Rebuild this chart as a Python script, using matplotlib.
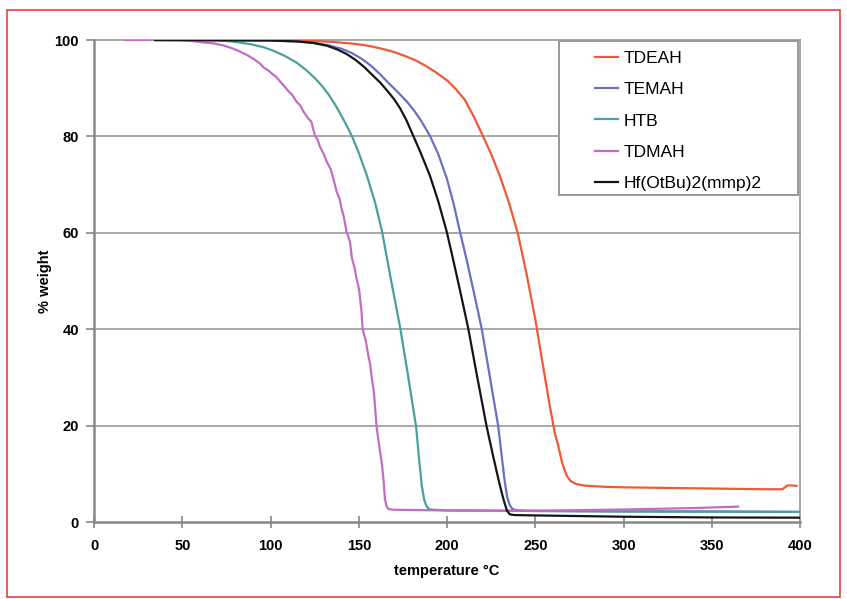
import matplotlib.pyplot as plt
from matplotlib.patches import Rectangle

# ─── DATA ──────────────────────────────────────────────────────────────────────

tdeah_t = [35, 100, 120, 135, 145, 152, 158, 164, 170, 176, 182, 188, 194, 200, 205,
           210, 215, 220, 225, 230, 235, 240, 245, 250, 255, 258, 261, 263, 265, 266.5,
           268, 270, 273, 277, 282, 290, 300, 320, 340, 360, 380, 390, 391.5, 393, 395,
           398]
tdeah_w = [100, 100, 99.9, 99.6, 99.3, 99, 98.6, 98.1, 97.5, 96.7, 95.8, 94.6, 93.2,
           91.6, 89.8, 87.6, 84.2, 80.3, 76.3, 71.7, 66.3, 60, 51.5, 42, 31, 24.5, 18.5,
           15.8, 12.6, 10.8, 9.5, 8.5, 7.9, 7.6, 7.45, 7.3, 7.2, 7.1, 7.0, 6.9, 6.8, 6.8,
           7.2, 7.6, 7.6, 7.5]

temah_t = [35, 100, 115, 125, 133, 140, 146, 152, 157, 162, 167, 172, 177, 181, 185,
           190.3, 195, 199.8, 203.5, 207.3, 211, 215, 219.6, 224, 229, 231, 232.5, 234,
           235.5, 237, 239.4, 245, 300, 350, 400]
temah_w = [100, 99.9, 99.7, 99.4, 98.9, 98.2, 97.3, 96, 94.6, 92.9, 91, 89.2, 87.3,
           85.5, 83.4, 80.1, 76.3, 71.3, 66.3, 60.2, 54.5, 47.9, 40.1, 30.6, 19.8, 13.5,
           8.8, 5.2, 3.5, 2.7, 2.45, 2.3, 2.2, 2.2, 2.1]

htb_t = [35, 67, 75, 82, 89, 96, 102, 108, 114.7, 120, 125, 129, 133, 136.5, 139.3,
         143, 146, 150, 154.4, 159, 163, 168, 173.5, 178, 182.4, 184, 185.6, 187, 188.4,
         190.3, 200, 250, 300, 400]
htb_w = [100, 100, 99.8, 99.5, 99.1, 98.5, 97.7, 96.7, 95.3, 93.8, 92.1, 90.5, 88.6,
         86.6, 84.8, 82.3, 80.1, 76.5, 72, 66.5, 60.5, 50.6, 40.1, 30, 19.8, 13.5, 7.6,
         4.6, 3.2, 2.6, 2.4, 2.3, 2.2, 2.1]

tdmah_t = [17.4, 48.6, 55, 62, 67.6, 73, 78, 82.6, 87, 91, 94, 96, 99, 101, 103, 105.3,
           108, 110, 112, 114.7, 117, 118.5, 121.3, 123, 124, 125.1, 126.5, 128, 130,
           131.7, 134, 135.5, 137.4, 139, 140, 141.5, 143, 144, 145, 146, 147.5, 148.5,
           150, 150.6, 151.5, 152.1, 153, 154, 155.3, 156.3, 157.5, 158.5, 160, 161.5,
           163, 164, 164.8, 165.8, 166.7, 169.5, 200, 250, 300, 340, 365]
tdmah_w = [100, 100, 99.8, 99.5, 99.3, 98.9, 98.3, 97.6, 96.8, 95.9, 95.1, 94.3, 93.6,
           92.9, 92.4, 91.4, 90.3, 89.4, 88.7, 87.2, 86.3, 85.2, 83.7, 83.1, 81.7, 80.1,
           79.4, 77.8, 76.4, 74.8, 73.2, 71.3, 68.5, 67.1, 65.3, 63.2, 60.2, 59.2, 58.0,
           54.8, 52.8, 50.8, 48.4, 46.7, 43.5, 40.1, 38.8, 37.4, 34.6, 32.9, 29.4, 27.0,
           19.8, 15.8, 12.2, 8.5, 4.6, 3.2, 2.7, 2.55, 2.4, 2.35, 2.6, 2.9, 3.2]

hf_t = [34.5, 100, 115, 124, 132, 138, 143, 148, 153, 158, 162, 166, 170, 173.4, 177,
        180, 185, 190.3, 195, 199.8, 203, 206, 209, 212, 217, 222.4, 226, 229, 231,
        232.5, 234, 235.5, 238, 245, 300, 350, 400]
hf_w = [100, 99.9, 99.7, 99.4, 98.8, 98.0, 97.1, 95.9, 94.4, 92.6, 91.2, 89.5, 87.7,
        85.8, 83.3, 80.8, 76.6, 71.8, 66.5, 60.2, 55.1, 50.2, 45.2, 40.1, 30.2, 19.8,
        13.8, 9, 6.0, 4.0, 2.3, 1.6, 1.45, 1.4, 1.1, 0.95, 0.9]

series = [
    ("TDEAH", tdeah_t, tdeah_w, "#ee5a36"),
    ("TEMAH", temah_t, temah_w, "#6b70c2"),
    ("HTB", htb_t, htb_w, "#4aa09c"),
    ("TDMAH", tdmah_t, tdmah_w, "#c36cc4"),
    ("Hf(OtBu)2(mmp)2", hf_t, hf_w, "#151515"),
]

x_ticks = [0, 50, 100, 150, 200, 250, 300, 350, 400]
y_ticks = [0, 20, 40, 60, 80, 100]

# ─── PLOT ──────────────────────────────────────────────────────────────────────

plt.rcParams['font.family'] = ['Liberation Sans', 'DejaVu Sans']

fig = plt.figure(figsize=(8.47, 5.99), dpi=100)
ax = fig.add_axes([0.1113, 0.1285, 0.8332, 0.8047])

grid_c = "#a8a8a8"
for y in y_ticks[1:]:
    ax.axhline(y, color=grid_c, lw=1.4, zorder=1, clip_on=False)

for name, t, w, c in series:
    ax.plot(t, w, color=c, lw=1.6, label=name, zorder=3)

ax.set_xlim(0, 400)
ax.set_ylim(0, 100)
ax.set_xticks(x_ticks)
ax.set_yticks(y_ticks)
ax.tick_params(axis='x', direction='inout', length=8, width=1.2, color="#888888",
               labelsize=10.5, pad=8)
ax.tick_params(axis='y', direction='out', length=6, width=1.2, color="#888888",
               labelsize=10.5, pad=5)
for lab in ax.get_xticklabels() + ax.get_yticklabels():
    lab.set_fontweight('bold')

ax.spines['top'].set_visible(False)
ax.spines['left'].set_color("#888888")
ax.spines['left'].set_linewidth(1.8)
ax.spines['bottom'].set_color("#888888")
ax.spines['bottom'].set_linewidth(1.8)
ax.spines['right'].set_color("#999999")
ax.spines['right'].set_linewidth(1.2)

ax.set_xlabel("temperature °C", fontsize=10.5, fontweight='bold', labelpad=8)
ax.set_ylabel("% weight", fontsize=10.5, fontweight='bold', labelpad=2)

# legend, Excel-style box drawn separately
leg = ax.legend(loc='upper left', bbox_to_anchor=(0.7095, 0.977), frameon=False,
                fontsize=12.5, borderpad=0, borderaxespad=0, handlelength=1.35,
                handletextpad=0.3, labelspacing=0.92)
ax.add_patch(Rectangle((0.6585, 0.678), 0.3385, 0.32, transform=ax.transAxes,
                       fill=True, facecolor='white', edgecolor="#999999", lw=1.4,
                       zorder=4, clip_on=False))
leg.set_zorder(5)

# red frame round the figure
fig.patches.append(Rectangle((0.0083, 0.0033), 0.9834, 0.9797, transform=fig.transFigure,
                             fill=False, edgecolor="#e8413c", lw=1.2))

plt.savefig("out.png", dpi=100)
